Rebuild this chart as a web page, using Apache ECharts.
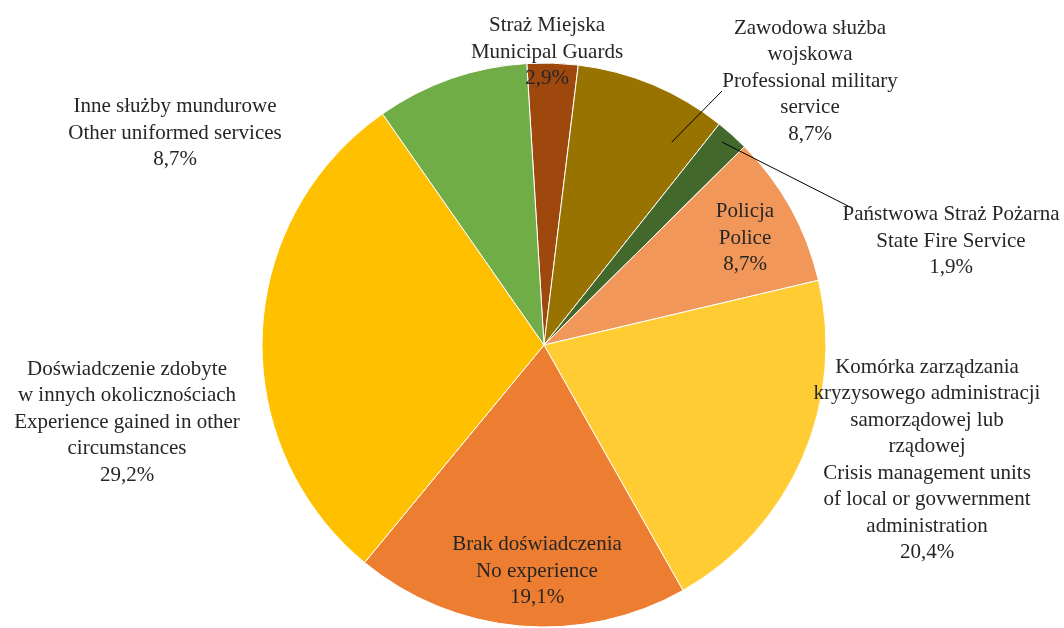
<!DOCTYPE html>
<html>
<head>
<meta charset="utf-8">
<script src="https://cdn.jsdelivr.net/npm/echarts@6/dist/echarts.min.js"></script>
<style>
  html, body { margin: 0; padding: 0; background: #fff; }
  #chart { width: 1064px; height: 628px; }
</style>
</head>
<body>
<div id="chart"></div>
<script>
// dane (kolejnosc zgodnie z ruchem wskazowek zegara od gory)
var categories = [
  'Straż Miejska\nMunicipal Guards',
  'Zawodowa służba\nwojskowa\nProfessional military\nservice',
  'Państwowa Straż Pożarna\nState Fire Service',
  'Policja\nPolice',
  'Komórka zarządzania\nkryzysowego administracji\nsamorządowej lub\nrządowej\nCrisis management units\nof local or govwernment\nadministration',
  'Brak doświadczenia\nNo experience',
  'Doświadczenie zdobyte\nw innych okolicznościach\nExperience gained in other\ncircumstances',
  'Inne służby mundurowe\nOther uniformed services'
];
var shares = [2.9, 8.7, 1.9, 8.7, 20.4, 19.1, 29.2, 8.7];
var colors = ['#9e480e', '#997300', '#43682b', '#f1975a', '#ffcd33', '#ed7d31', '#ffc000', '#70ad47'];

// polozenie etykiet (srodek bloku tekstu)
var labelPos = [[547, 52], [810, 81], [951, 241], [745, 238], [927, 460], [537, 571], [127, 422], [175, 133]];
// linie odniesienia: indeks -> [kat od gory, ulamek promienia, przesuniecie konca wzgledem etykiety]
var leaders = {
  1: [32.2, 0.85, [-88, 10]],
  2: [41.2, 0.957, [-101, -34]]
};

var cx = 544, cy = 345, R = 282;

function polar(deg, f) {
  var a = deg * Math.PI / 180;
  return [cx + R * f * Math.sin(a), cy - R * f * Math.cos(a)];
}

var chart = echarts.init(document.getElementById('chart'));

// wycinki
var pieData = categories.map(function (name, i) {
  return { name: name, value: shares[i], itemStyle: { color: colors[i] } };
});
// ta sama geometria, przezroczysta - tylko etykiety i linie nad wycinkami
var labelData = categories.map(function (name, i) {
  var item = { name: name, value: shares[i] };
  if (leaders[i]) item.labelLine = { show: true };
  return item;
});

var option = {
  animation: false,
  series: [{
    type: 'pie',
    z: 2,
    center: [cx, cy],
    radius: R,
    startAngle: 93.5,
    clockwise: true,
    silent: true,
    itemStyle: { borderColor: '#ffffff', borderWidth: 1 },
    label: { show: false },
    labelLine: { show: false },
    emphasis: { disabled: true },
    data: pieData
  }, {
    type: 'pie',
    z: 5,
    center: [cx, cy],
    radius: R,
    startAngle: 93.5,
    clockwise: true,
    silent: true,
    avoidLabelOverlap: false,
    itemStyle: { color: 'rgba(0,0,0,0)', borderWidth: 0 },
    label: {
      show: true,
      position: 'outside',
      color: '#262626',
      fontFamily: 'Liberation Serif',
      fontSize: 21,
      lineHeight: 26.5,
      align: 'center',
      formatter: function (p) {
        return p.name + '\n' + String(p.value).replace('.', ',') + '%';
      }
    },
    labelLine: {
      show: false,
      lineStyle: { color: '#000000', width: 1, opacity: 1 }
    },
    emphasis: { disabled: true },
    labelLayout: function (params) {
      var i = params.dataIndex;
      var pos = labelPos[i];
      var res = { x: pos[0], y: pos[1], align: 'center', verticalAlign: 'middle' };
      if (leaders[i]) {
        var start = polar(leaders[i][0], leaders[i][1]);
        var off = leaders[i][2];
        res.labelLinePoints = [start, [pos[0] + off[0], pos[1] + off[1]]];
      }
      return res;
    },
    data: labelData
  }]
};

chart.setOption(option);
window.onresize = chart.resize;
</script>
</body>
</html>
